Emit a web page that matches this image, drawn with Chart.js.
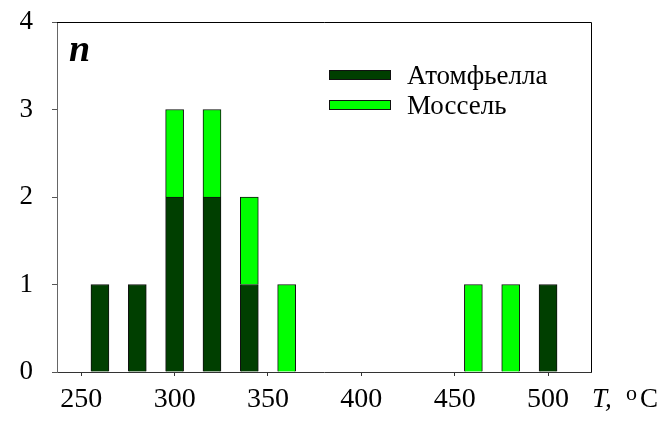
<!DOCTYPE html>
<html>
<head>
<meta charset="utf-8">
<script src="https://cdn.jsdelivr.net/npm/chart.js@4.4.0/dist/chart.umd.min.js"></script>
<style>
html,body{margin:0;padding:0;background:#fff;}
#wrap{width:665px;height:422px;position:relative;}
</style>
</head>
<body>
<div id="wrap"><canvas id="c" width="665" height="422"></canvas></div>
<script>
const temps = [260, 280, 300, 320, 340, 360, 460, 480, 500];
const atomfiella = [1, 1, 2, 2, 1, null, null, null, 1];
const mossel = [null, null, 1, 1, 1, 1, 1, 1, null];
const seriesNames = ['Атомфьелла', 'Моссель'];
const xTicks = [250, 300, 350, 400, 450, 500];
const yTicks = [0, 1, 2, 3, 4];
const yLabel = 'n';
const xLabelItalic = 'T,';
const xLabelDeg = 'o';
const xLabelUnit = 'C';

const colors = ['#003f00', '#00ff00'];
const FONT = '"Liberation Serif", "Times New Roman", serif';

const frame = {
  id: 'frame',
  afterDraw(chart) {
    const {ctx, chartArea: a} = chart;
    ctx.save();
    ctx.lineWidth = 1;
    ctx.strokeStyle = '#000';
    ctx.beginPath();
    ctx.moveTo(a.left, a.top + 0.5); ctx.lineTo(a.right + 0.5, a.top + 0.5);
    ctx.lineTo(a.right + 0.5, a.bottom);
    ctx.stroke();
    // legend
    const lx = 329, ly = [70, 100], tb = [83.5, 114];
    seriesNames.forEach((name, i) => {
      ctx.fillStyle = colors[i];
      ctx.fillRect(lx, ly[i], 62, 10);
      ctx.strokeStyle = '#111';
      ctx.strokeRect(lx + 0.5, ly[i] + 0.5, 61, 9);
      ctx.fillStyle = '#000';
      ctx.font = '27px ' + FONT;
      ctx.textBaseline = 'alphabetic';
      ctx.textAlign = 'left';
      ctx.fillText(name, 407, tb[i]);
    });
    // axis labels
    ctx.font = 'italic bold 38px ' + FONT;
    ctx.fillText(yLabel, 69, 61);
    ctx.font = 'italic 27px ' + FONT;
    ctx.fillText(xLabelItalic, 592, 407);
    ctx.font = '22px ' + FONT;
    ctx.fillText(xLabelDeg, 626, 400);
    ctx.font = '27px ' + FONT;
    ctx.fillText(xLabelUnit, 640, 407);
    ctx.restore();
  }
};

new Chart(document.getElementById('c'), {
  type: 'bar',
  data: {
    datasets: [
      { label: seriesNames[0], data: temps.map((t, i) => ({x: t, y: atomfiella[i]})),
        backgroundColor: colors[0], borderColor: '#111', borderWidth: 1, barThickness: 18 },
      { label: seriesNames[1], data: temps.map((t, i) => ({x: t, y: mossel[i]})),
        backgroundColor: colors[1], borderColor: '#111', borderWidth: 1, barThickness: 18 }
    ]
  },
  options: {
    responsive: false,
    animation: false,
    layout: { padding: { top: 22, right: 74, left: 0, bottom: 0 } },
    plugins: { legend: { display: false }, tooltip: { enabled: false } },
    scales: {
      x: {
        type: 'linear', stacked: true, min: 237, max: 523, offset: false,
        afterBuildTicks: s => { s.ticks = xTicks.map(v => ({value: v})); },
        afterFit: s => { s.height = 50; s.paddingLeft = 0; s.paddingRight = 0; },
        grid: { display: true, offset: false, drawOnChartArea: false, tickLength: 4, color: '#333' },
        border: { display: true, color: '#333', width: 1 },
        ticks: { color: '#000', font: { family: FONT, size: 28 }, padding: 7, maxRotation: 0 }
      },
      y: {
        stacked: true, min: 0, max: 4,
        afterBuildTicks: s => { s.ticks = yTicks.map(v => ({value: v})); },
        afterFit: s => { s.width = 57; s.paddingTop = 0; s.paddingBottom = 0; },
        grid: { display: true, drawOnChartArea: false, tickLength: 5, color: '#555' },
        border: { display: true, color: '#666', width: 1 },
        ticks: { color: '#000', font: { family: FONT, size: 27 }, padding: 19 }
      }
    }
  },
  plugins: [frame]
});
</script>
</body>
</html>
